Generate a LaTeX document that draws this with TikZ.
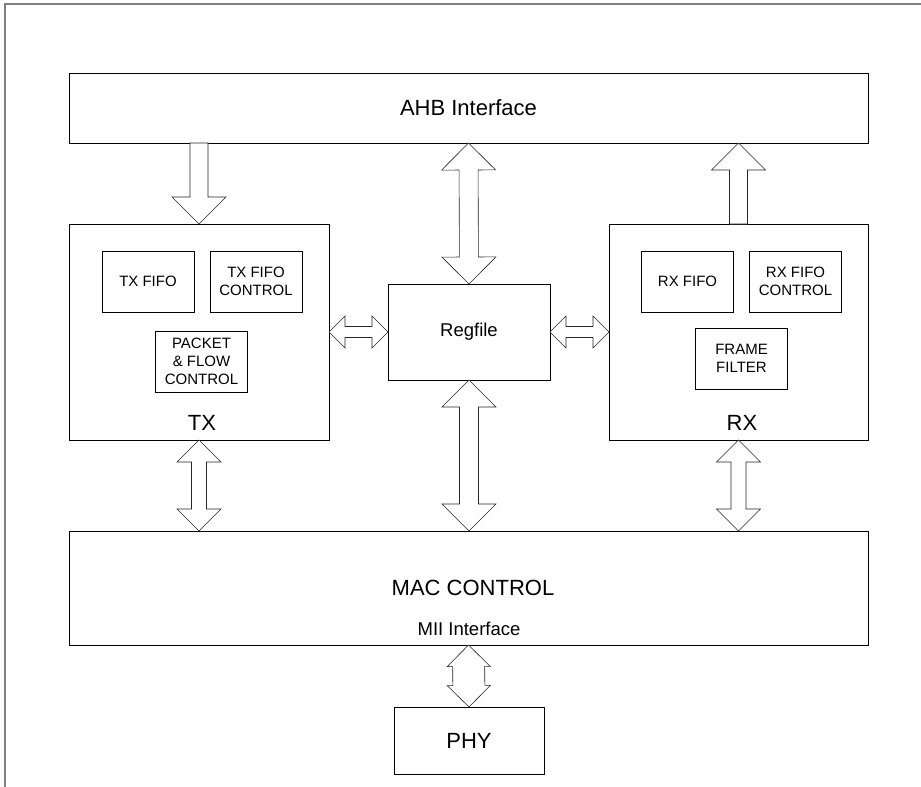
\documentclass[tikz,border=0pt]{standalone}
\usepackage{fontspec}
\setmainfont{Liberation Sans}
\usetikzlibrary{calc}

\tikzset{
  blk/.style={draw=black,line width=0.8pt,inner sep=0pt,outer sep=0pt,align=center},
  fatarrow/.style={draw=black!85,line width=0.6pt,fill=white,line join=miter},
  bigtxt/.style={font=\fontsize{22}{26}\selectfont},
  midtxt/.style={font=\fontsize{18.5}{22}\selectfont},
  smltxt/.style={font=\fontsize{15}{18}\selectfont}
}

% block arrow with two heads: tips #1 and #2, shaft half width #3, head size #4
\newcommand{\dblarrow}[4]{%
  \coordinate (ba) at ($(#1)!#4!(#2)$);
  \coordinate (bb) at ($(#2)!#4!(#1)$);
  \draw[fatarrow] (#1) -- ($(ba)!#4!90:(#2)$) -- ($(ba)!#3!90:(#2)$)
    -- ($(bb)!#3!-90:(#1)$) -- ($(bb)!#4!-90:(#1)$) -- (#2)
    -- ($(bb)!#4!90:(#1)$) -- ($(bb)!#3!90:(#1)$)
    -- ($(ba)!#3!-90:(#2)$) -- ($(ba)!#4!-90:(#2)$) -- cycle;}
% block arrow with one head: flat end #1, tip #2
\newcommand{\onearrow}[4]{%
  \coordinate (bb) at ($(#2)!#4!(#1)$);
  \draw[fatarrow] ($(#1)!#3!90:(#2)$) -- ($(bb)!#3!-90:(#1)$)
    -- ($(bb)!#4!-90:(#1)$) -- (#2) -- ($(bb)!#4!90:(#1)$)
    -- ($(bb)!#3!90:(#1)$) -- ($(#1)!#3!-90:(#2)$) -- cycle;}

\begin{document}
\begin{tikzpicture}[x=1pt,y=-1pt]
  \useasboundingbox (0,0) rectangle (921,787);
  % outer frame (top and left edge only)
  \draw[gray,line width=1.5pt] (5,787) -- (5,4) -- (921,4);

  % main blocks
  \node[blk,minimum width=799,minimum height=70] (ahb) at (468.5,108) {};
  \node[bigtxt,anchor=base] (ahblbl) at (468.5,115) {AHB Interface};
  \node[blk,minimum width=260,minimum height=216] (tx) at (199,332) {};
  \node[bigtxt,anchor=base] (txlbl) at (202,430.5) {TX};
  \node[blk,minimum width=259,minimum height=216] (rx) at (738.5,332) {};
  \node[bigtxt,anchor=base] (rxlbl) at (742,430.5) {RX};
  \node[blk,midtxt,minimum width=162,minimum height=96] (reg) at (469,332) {Regfile};
  \node[blk,minimum width=799,minimum height=114] (mac) at (468.5,588) {};
  \node[bigtxt,anchor=base] (maclbl) at (473,595) {MAC CONTROL};
  \node[midtxt,anchor=base] (miilbl) at (469,635) {MII Interface};
  \node[blk,bigtxt,minimum width=150,minimum height=67] (phy) at (469,740.5) {PHY};

  % sub blocks of TX and RX
  \foreach \nm/\cx/\cy/\txt in {txfifo/148/281.5/TX FIFO,
      txctl/256/281.5/{TX FIFO\\CONTROL},
      pkt/201.5/361.5/{PACKET\\ \& FLOW\\CONTROL},
      rxfifo/687.5/281.5/RX FIFO,
      rxctl/795.5/281.5/{RX FIFO\\CONTROL},
      filt/741.5/358.5/{FRAME\\FILTER}}{
    \node[blk,smltxt,line width=0.7pt,minimum width=92,minimum height=61] (\nm) at (\cx,\cy) {\txt};
  }

  % connectors
  \coordinate (ahbtx) at (ahb.south -| tx.north);
  \coordinate (ahbrx) at (ahb.south -| rx.north);
  \coordinate (mactx) at (mac.north -| tx.south);
  \coordinate (macrx) at (mac.north -| rx.south);
  \coordinate (macreg) at (mac.north -| reg.south);
  \onearrow{ahbtx}{tx.north}{9pt}{27pt}
  \onearrow{rx.north}{ahbrx}{9pt}{27pt}
  \dblarrow{ahb.south}{reg.north}{9.5pt}{27pt}
  \dblarrow{reg.south}{macreg}{9.5pt}{27pt}
  \dblarrow{tx.east}{reg.west}{5.5pt}{16pt}
  \dblarrow{reg.east}{rx.west}{5.5pt}{16pt}
  \dblarrow{tx.south}{mactx}{7.5pt}{22pt}
  \dblarrow{rx.south}{macrx}{7.5pt}{22pt}
  \dblarrow{mac.south}{phy.north}{16pt}{21.5pt}
\end{tikzpicture}
\end{document}
